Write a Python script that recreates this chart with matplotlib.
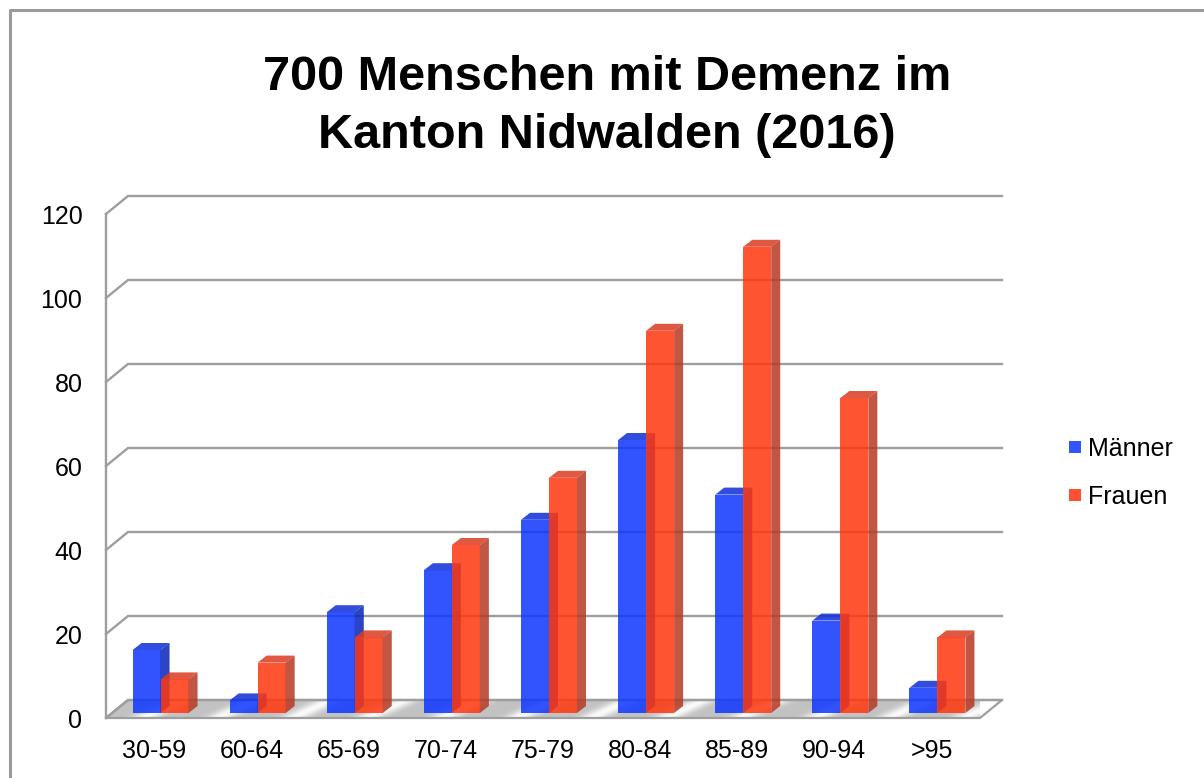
import numpy as np
import matplotlib
matplotlib.use('Agg')
import matplotlib.pyplot as plt
from matplotlib.patches import Polygon, Rectangle

# ---------------- data ----------------
categories = ['30-59', '60-64', '65-69', '70-74', '75-79', '80-84', '85-89', '90-94', '>95']
maenner = [15, 3, 24, 34, 46, 65, 52, 22, 6]
frauen = [8, 12, 18, 40, 56, 91, 111, 75, 18]
yticks = [0, 20, 40, 60, 80, 100, 120]
series_names = ['Männer', 'Frauen']
title = '700 Menschen mit Demenz im\nKanton Nidwalden (2016)'

plt.rcParams['font.family'] = ['Liberation Sans', 'DejaVu Sans']

W, H = 1204, 778
fig = plt.figure(figsize=(W / 100, H / 100), dpi=100)
fig.patch.set_facecolor('white')

# front plane of the pseudo-3D plot in pixels
AX_L, AX_R, AX_B, AX_T = 106, 980, 718, 214
ax = fig.add_axes([AX_L / W, 1 - AX_B / H, (AX_R - AX_L) / W, (AX_B - AX_T) / H])
n = len(categories)
ymax = 120
ax.set_xlim(-0.5, n - 0.5)
ax.set_ylim(0, ymax)
for s in ax.spines.values():
    s.set_visible(False)
ax.set_facecolor('none')

px_x = (AX_R - AX_L) / n
px_y = (AX_B - AX_T) / ymax


def dx(p):
    return p / px_x


def dy(p):
    return p / px_y


# wall depth offset (pixels)
WX, WY = 22, 18
grid_col = '#9e9e9e'

# floor with silvery stripes
floor = [(-0.5, 0), (n - 0.5, 0), (n - 0.5 + dx(WX), dy(WY)), (-0.5 + dx(WX), dy(WY))]
fx = np.linspace(0, 1, 900)
fy = np.linspace(0, 1, 20)
FX, FY = np.meshgrid(fx, fy)
pat = 0.76 + 0.22 * np.sin(np.pi * (FX * 12 - FY * 0.5)) ** 6
img = ax.imshow(pat, cmap='gray', vmin=0, vmax=1, aspect='auto',
                extent=(-0.5, n - 0.5 + dx(WX), 0, dy(WY)), origin='lower',
                zorder=0.5, interpolation='bilinear')
fpoly = Polygon(floor, closed=True, facecolor='none', edgecolor='none', transform=ax.transData)
ax.add_patch(fpoly)
img.set_clip_path(fpoly)
img.set_clip_on(True)
ax.add_patch(Polygon(floor, closed=True, facecolor='none', edgecolor=grid_col, lw=1.6,
                     zorder=0.6, clip_on=False))

# back gridlines with side wall diagonals
for v in yticks:
    ax.plot([-0.5, -0.5 + dx(WX), n - 0.5 + dx(WX)], [v, v + dy(WY), v + dy(WY)],
            color=grid_col, lw=1.7, clip_on=False, zorder=0.7, solid_joinstyle='miter')
ax.plot([-0.5, -0.5], [0, ymax], color=grid_col, lw=1.7, clip_on=False, zorder=0.7)

# bars
BX, BY = 6, 5          # bars sit slightly behind the front plane
DX, DY = 9, 7          # bar depth
bw = dx(28)
base = dy(BY)
alpha = 0.86
series = [
    (maenner, -bw + dx(BX), '#1038FF', '#1030D8', '#0A26BC', 2),
    (frauen, dx(BX), '#FF3810', '#DA3C22', '#B83A25', 3),
]
x = np.arange(n)
for vals, off, cf, ct, cs, z in series:
    bars = ax.bar(x + off, vals, width=bw, bottom=base, align='edge', color=cf,
                  alpha=alpha, zorder=z, linewidth=0, clip_on=False)
    for b in bars:
        x0 = b.get_x()
        x1 = x0 + b.get_width()
        y0 = b.get_y()
        y1 = y0 + b.get_height()
        top = [(x0, y1), (x1, y1), (x1 + dx(DX), y1 + dy(DY)), (x0 + dx(DX), y1 + dy(DY))]
        side = [(x1, y0), (x1, y1), (x1 + dx(DX), y1 + dy(DY)), (x1 + dx(DX), y0 + dy(DY))]
        ax.add_patch(Polygon(top, closed=True, facecolor=ct, alpha=alpha, lw=0, zorder=z, clip_on=False))
        ax.add_patch(Polygon(side, closed=True, facecolor=cs, alpha=alpha, lw=0, zorder=z, clip_on=False))

# ticks
ax.set_yticks(yticks)
ax.set_yticklabels([str(v) for v in yticks], fontsize=18)
ax.set_xticks(x)
ax.set_xticklabels(categories, fontsize=18)
ax.tick_params(axis='y', length=0, pad=17)
ax.tick_params(axis='x', length=0, pad=15)

# title (two lines placed on their baselines)
for i, line in enumerate(title.split('\n')):
    fig.text(0.504, 1 - (90 + 58 * i) / H, line, ha='center', va='baseline',
             fontsize=35, fontweight='bold')

# legend (manual)
leg_cols = ['#3355FF', '#FF5033']
for i, (name, c) in enumerate(zip(series_names, leg_cols)):
    yc = 447 + i * 48
    fig.add_artist(Rectangle((1069 / W, 1 - (yc + 6) / H), 12 / W, 12 / H,
                             transform=fig.transFigure, facecolor=c, edgecolor='none'))
    fig.text(1088 / W, 1 - (yc + 2) / H, name, ha='left', va='center', fontsize=18)

# outer border (left and top visible)
fig.add_artist(plt.Line2D([10 / W, 10 / W, 1.0], [0.0, 1 - 10 / H, 1 - 10 / H],
                          transform=fig.transFigure, color='#9a9a9a', lw=2.2))

fig.savefig('out.png', dpi=100)
